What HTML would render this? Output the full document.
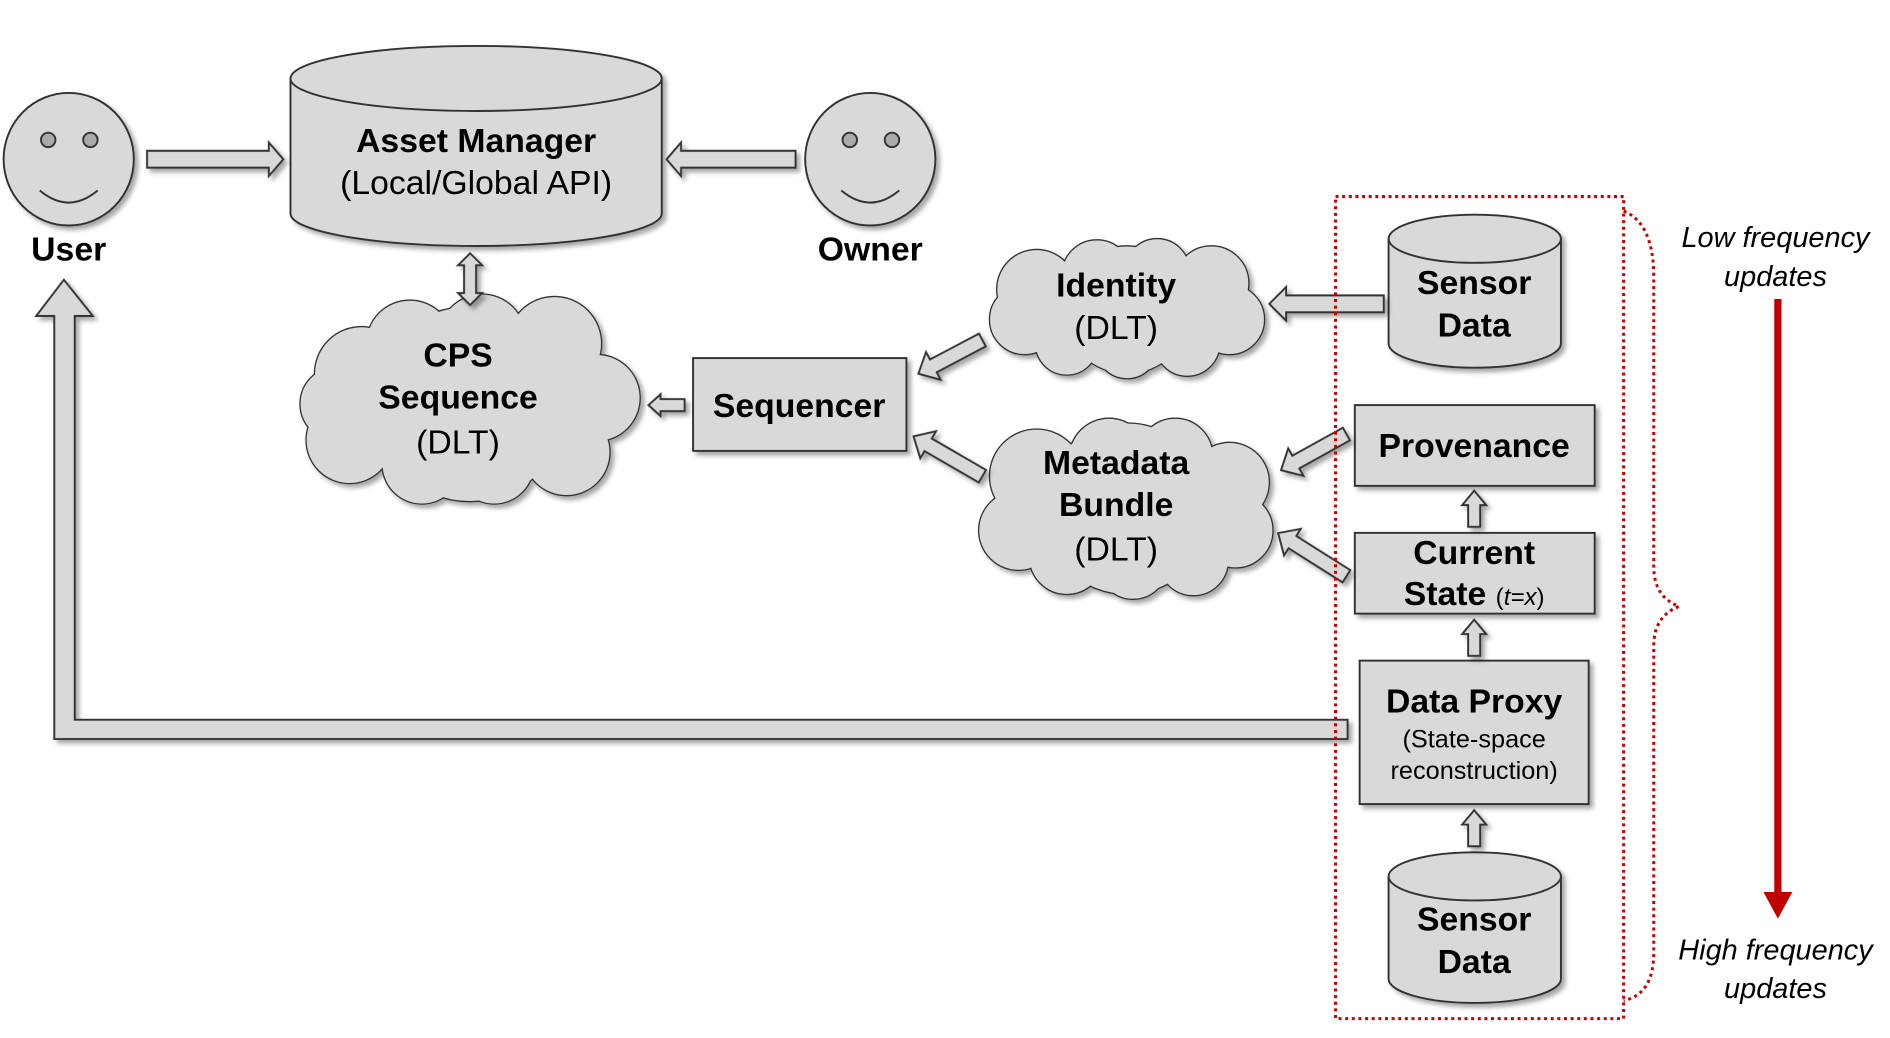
<!DOCTYPE html>
<html><head><meta charset="utf-8"><style>
html,body{margin:0;padding:0;background:#fff;}
svg{display:block;}
text{font-family:"Liberation Sans",sans-serif;fill:#000;text-anchor:middle;}
.b{font-weight:bold;font-size:28px;}
.n{font-size:28px;}
.i{font-style:italic;font-size:24px;}
</style></head><body>
<svg width="1890" height="1038" viewBox="0 0 1568 861" xmlns="http://www.w3.org/2000/svg">
<defs>
<filter id="sh" x="-10%" y="-10%" width="130%" height="130%">
<feDropShadow dx="3" dy="3" stdDeviation="2" flood-color="#000" flood-opacity="0.35"/>
</filter>
</defs>
<g fill="#d9d9d9" stroke="#333" stroke-width="1.6">
<g filter="url(#sh)">
<ellipse cx="57" cy="132" rx="54" ry="55"/>
<ellipse cx="722" cy="132" rx="54" ry="55"/>
</g>
<circle cx="40" cy="116" r="6" fill="#aaa"/><circle cx="75" cy="116" r="6" fill="#aaa"/>
<path d="M33 158 Q57 178 81 158" fill="none"/>
<circle cx="705" cy="116" r="6" fill="#aaa"/><circle cx="740" cy="116" r="6" fill="#aaa"/>
<path d="M698 158 Q722 178 746 158" fill="none"/>

<path filter="url(#sh)" d="M241 65 A154 27 0 0 1 549 65 L549 177 A154 27 0 0 1 241 177 Z"/>
<path d="M241 65 A154 27 0 0 0 549 65" fill="none"/>

<path filter="url(#sh)" d="M1152 198 A71.5 20 0 0 1 1295 198 L1295 285 A71.5 20 0 0 1 1152 285 Z"/>
<path d="M1152 198 A71.5 20 0 0 0 1295 198" fill="none"/>
<path filter="url(#sh)" d="M1152 727 A71.5 20 0 0 1 1295 727 L1295 812 A71.5 20 0 0 1 1152 812 Z"/>
<path d="M1152 727 A71.5 20 0 0 0 1295 727" fill="none"/>

<g filter="url(#sh)">
<rect x="575" y="297" width="177" height="77"/>
<rect x="1124" y="336" width="199" height="67"/>
<rect x="1124" y="442" width="199" height="67"/>
<rect x="1128" y="548" width="190" height="119"/>
</g>

<g filter="url(#sh)" stroke-width="3.4">
<g>
<circle cx="300" cy="310" r="38"/><circle cx="340" cy="285" r="35"/><circle cx="400" cy="280" r="35"/><circle cx="460" cy="285" r="38"/><circle cx="495" cy="330" r="35"/><circle cx="470" cy="375" r="35"/><circle cx="410" cy="385" r="32"/><circle cx="350" cy="385" r="32"/><circle cx="290" cy="365" r="35"/><circle cx="280" cy="335" r="30"/><circle cx="390" cy="335" r="80"/>
</g>
<g stroke="#d9d9d9" stroke-width="1.2">
<circle cx="300" cy="310" r="38"/><circle cx="340" cy="285" r="35"/><circle cx="400" cy="280" r="35"/><circle cx="460" cy="285" r="38"/><circle cx="495" cy="330" r="35"/><circle cx="470" cy="375" r="35"/><circle cx="410" cy="385" r="32"/><circle cx="350" cy="385" r="32"/><circle cx="290" cy="365" r="35"/><circle cx="280" cy="335" r="30"/><circle cx="390" cy="335" r="80"/>
</g>
<g>
<circle cx="860" cy="240" r="32"/><circle cx="910" cy="228" r="28"/><circle cx="960" cy="225" r="26"/><circle cx="1005" cy="235" r="30"/><circle cx="1020" cy="265" r="28"/><circle cx="985" cy="285" r="26"/><circle cx="935" cy="288" r="25"/><circle cx="885" cy="285" r="25"/><circle cx="850" cy="265" r="28"/><circle cx="935" cy="257" r="52"/>
</g>
<g stroke="#d9d9d9" stroke-width="1.2">
<circle cx="860" cy="240" r="32"/><circle cx="910" cy="228" r="28"/><circle cx="960" cy="225" r="26"/><circle cx="1005" cy="235" r="30"/><circle cx="1020" cy="265" r="28"/><circle cx="985" cy="285" r="26"/><circle cx="935" cy="288" r="25"/><circle cx="885" cy="285" r="25"/><circle cx="850" cy="265" r="28"/><circle cx="935" cy="257" r="52"/>
</g>
<g>
<circle cx="860" cy="395" r="38"/><circle cx="920" cy="380" r="32"/><circle cx="975" cy="378" r="30"/><circle cx="1020" cy="400" r="32"/><circle cx="1025" cy="440" r="30"/><circle cx="990" cy="465" r="28"/><circle cx="940" cy="468" r="28"/><circle cx="885" cy="462" r="30"/><circle cx="845" cy="440" r="32"/><circle cx="935" cy="422" r="70"/>
</g>
<g stroke="#d9d9d9" stroke-width="1.2">
<circle cx="860" cy="395" r="38"/><circle cx="920" cy="380" r="32"/><circle cx="975" cy="378" r="30"/><circle cx="1020" cy="400" r="32"/><circle cx="1025" cy="440" r="30"/><circle cx="990" cy="465" r="28"/><circle cx="940" cy="468" r="28"/><circle cx="885" cy="462" r="30"/><circle cx="845" cy="440" r="32"/><circle cx="935" cy="422" r="70"/>
</g>
</g>

<g filter="url(#sh)">
<polygon transform="translate(122,132)" points="0,-7 101,-7 101,-14 113,0 101,14 101,7 0,7"/>
<polygon transform="translate(660,132) rotate(180)" points="0,-7 95,-7 95,-14 107,0 95,14 95,7 0,7"/>
<polygon points="385,220 380,220 390,210 400,220 395,220 395,243 400,243 390,253 380,243 385,243"/>
<polygon transform="translate(568,336) rotate(180)" points="0,-5 20,-5 20,-9 30,0 20,9 20,5 0,5"/>
<polygon transform="translate(815,282) rotate(152.2)" points="0,-6 46,-6 46,-13 60,0 46,13 46,6 0,6"/>
<polygon transform="translate(815,395) rotate(210.1)" points="0,-6 52,-6 52,-13 66,0 52,13 52,6 0,6"/>
<polygon transform="translate(1148,252) rotate(180)" points="0,-7 81,-7 81,-14 95,0 81,14 81,7 0,7"/>
<polygon transform="translate(1117,360) rotate(151)" points="0,-6 48,-6 48,-13 62,0 48,13 48,6 0,6"/>
<polygon transform="translate(1117,478) rotate(212.3)" points="0,-6 53,-6 53,-13 67,0 53,13 53,6 0,6"/>
<polygon transform="translate(1223,437) rotate(-90)" points="0,-5 18,-5 18,-10 30,0 18,10 18,5 0,5"/>
<polygon transform="translate(1223,544) rotate(-90)" points="0,-5 18,-5 18,-10 30,0 18,10 18,5 0,5"/>
<polygon transform="translate(1223,702) rotate(-90)" points="0,-5 18,-5 18,-10 30,0 18,10 18,5 0,5"/>
<polygon points="1118,597 62,597 62,262 77,262 53,232 30,262 45,262 45,613 1118,613"/>
</g>
</g>

<rect x="1108" y="163" width="239" height="682" fill="none" stroke="#c00" stroke-width="2.5" stroke-dasharray="2.5 3"/>
<path d="M1347 175 Q1372 185 1372 230 L1372 470 Q1372 495 1393 503 Q1372 511 1372 536 L1372 790 Q1372 825 1347 830" fill="none" stroke="#c00" stroke-width="2.5" stroke-dasharray="2.5 3"/>
<rect x="1472" y="248" width="6" height="495" fill="#c00000"/>
<polygon points="1463,740 1487,740 1475,762" fill="#c00000"/>

<text class="b" x="57" y="216">User</text>
<text class="b" x="722" y="216">Owner</text>
<text class="b" x="395" y="126">Asset Manager</text>
<text class="n" x="395" y="161">(Local/Global API)</text>
<text class="b" x="380" y="304">CPS</text>
<text class="b" x="380" y="339">Sequence</text>
<text class="n" x="380" y="376">(DLT)</text>
<text class="b" x="663" y="346">Sequencer</text>
<text class="b" x="926" y="246">Identity</text>
<text class="n" x="926" y="281">(DLT)</text>
<text class="b" x="926" y="393">Metadata</text>
<text class="b" x="926" y="428">Bundle</text>
<text class="n" x="926" y="465">(DLT)</text>
<text class="b" x="1223" y="244">Sensor</text>
<text class="b" x="1223" y="279">Data</text>
<text class="b" x="1223" y="379">Provenance</text>
<text class="b" x="1223" y="468">Current</text>
<text class="b" x="1223" y="502">State <tspan style="font-weight:normal;font-size:20px">(<tspan font-style="italic">t=x</tspan>)</tspan></text>
<text class="b" x="1223" y="591">Data Proxy</text>
<text x="1223" y="620" style="font-size:21px">(State-space</text>
<text x="1223" y="646" style="font-size:21px">reconstruction)</text>
<text class="b" x="1223" y="772">Sensor</text>
<text class="b" x="1223" y="807">Data</text>
<text class="i" x="1473" y="205">Low frequency</text>
<text class="i" x="1473" y="237">updates</text>
<text class="i" x="1473" y="796">High frequency</text>
<text class="i" x="1473" y="828">updates</text>
</svg>
</body></html>
